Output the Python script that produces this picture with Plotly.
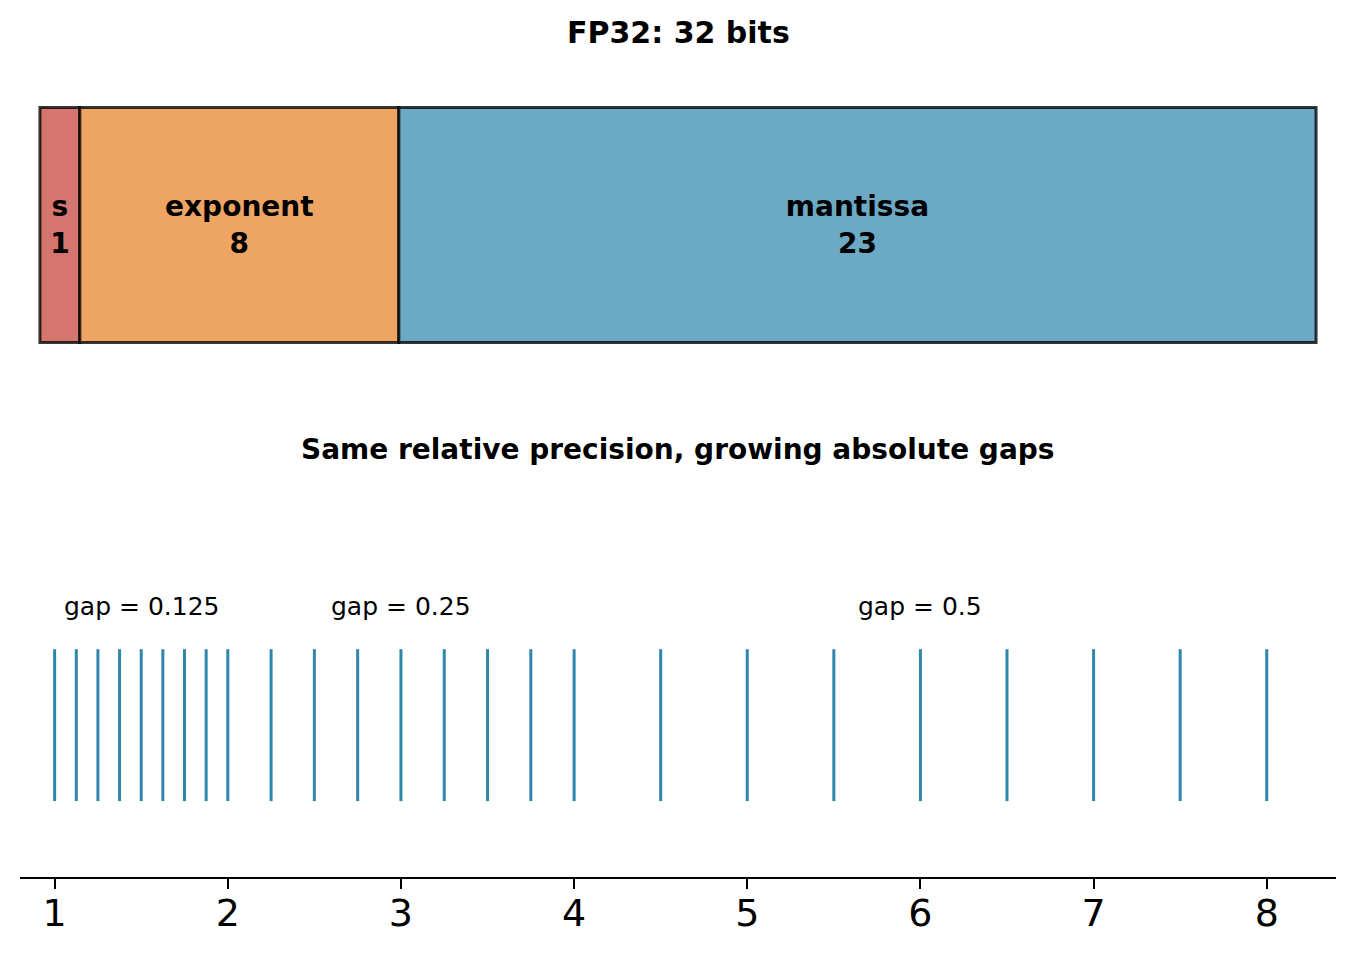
import plotly.graph_objects as go

# ---- data ----
field_names = ["s", "exponent", "mantissa"]
field_bits = [1, 8, 23]
field_colors = ["#D4756F", "#EEA564", "#6BA9C4"]

representable_values = [
    1.0, 1.125, 1.25, 1.375, 1.5, 1.625, 1.75, 1.875, 2.0,
    2.25, 2.5, 2.75, 3.0, 3.25, 3.5, 3.75, 4.0,
    4.5, 5.0, 5.5, 6.0, 6.5, 7.0, 7.5, 8.0,
]
gap_labels = ["gap = 0.125", "gap = 0.25", "gap = 0.5"]
gap_label_x = [1.5, 3.0, 6.0]
x_tick_vals = [1, 2, 3, 4, 5, 6, 7, 8]

# ---- figure geometry (page has an 8px body margin) ----
OFF = 8
W, H = 1355 - OFF, 954 - OFF


def py(px):
    return 1 - (px - OFF) / H


starts = []
acc = 0
for b in field_bits:
    starts.append(acc)
    acc += b

fig = go.Figure()

# top: bit layout bars
for name, bits, start, color in zip(field_names, field_bits, starts, field_colors):
    fig.add_trace(go.Bar(
        x=[bits], base=[start], y=[0], orientation="h", width=1,
        marker=dict(color=color, line=dict(color="rgba(0,0,0,0.78)", width=3)),
        text=[f"<b>{name}<br>{bits}</b>"], textposition="inside",
        insidetextanchor="middle", textangle=0,
        textfont=dict(family="DejaVu Sans", size=28, color="black"),
        xaxis="x", yaxis="y", showlegend=False, hoverinfo="skip",
    ))

# bottom: representable values as vertical lines
lx, ly = [], []
for v in representable_values:
    lx += [v, v, None]
    ly += [0, 1, None]
fig.add_trace(go.Scatter(
    x=lx, y=ly, mode="lines", line=dict(color="#2E86AB", width=3),
    xaxis="x2", yaxis="y2", showlegend=False, hoverinfo="skip",
))

annotations = [
    dict(text="<b>FP32: 32 bits</b>", x=0.5, y=py(33), xref="paper", yref="paper",
         xanchor="center", yanchor="middle", showarrow=False,
         font=dict(family="DejaVu Sans", size=30, color="black")),
    dict(text="<b>Same relative precision, growing absolute gaps</b>", x=0.5, y=py(450),
         xref="paper", yref="paper", xanchor="center", yanchor="middle", showarrow=False,
         font=dict(family="DejaVu Sans", size=28, color="black")),
]
for t, gx in zip(gap_labels, gap_label_x):
    annotations.append(dict(text=t, x=gx, y=1.28, xref="x2", yref="y2",
                            xanchor="center", yanchor="middle", showarrow=False,
                            font=dict(family="DejaVu Sans", size=25, color="black")))

fig.update_layout(
    width=W, height=H,
    margin=dict(l=20 - OFF, r=1355 - 1336, t=0, b=0),
    plot_bgcolor="white", paper_bgcolor="white",
    barmode="overlay",
    font=dict(family="DejaVu Sans", color="black"),
    xaxis=dict(domain=[0, 1], range=[-0.5, 32.5], visible=False, anchor="y"),
    yaxis=dict(domain=[py(380), py(70)], range=[-0.6596, 0.6596], visible=False, anchor="x"),
    xaxis2=dict(domain=[0, 1], range=[0.8, 8.4], anchor="y2",
                tickmode="array", tickvals=x_tick_vals, ticktext=[str(v) for v in x_tick_vals],
                ticks="outside", ticklen=10, tickwidth=2, tickcolor="black",
                ticklabelstandoff=-9,
                showline=True, linecolor="black", linewidth=2,
                showgrid=False, zeroline=False,
                tickfont=dict(family="DejaVu Sans", size=38, color="black")),
    yaxis2=dict(domain=[py(877), py(470)], range=[-0.5, 2.18], visible=False,
                anchor="x2", showgrid=False, zeroline=False),
    annotations=annotations,
)

fig.write_html("out.html")
